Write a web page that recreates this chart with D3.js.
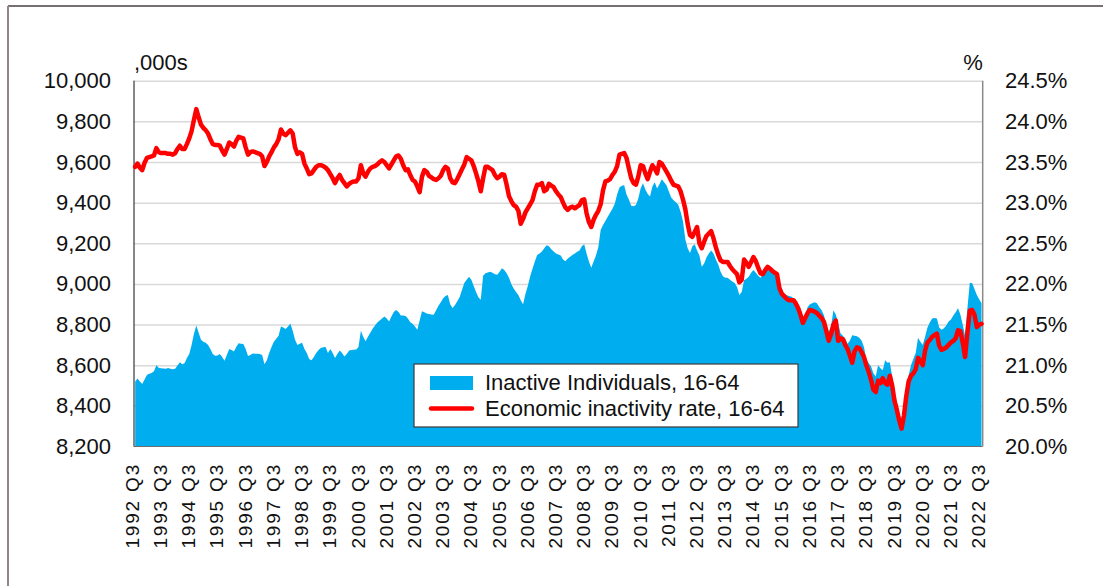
<!DOCTYPE html>
<html>
<head>
<meta charset="utf-8">
<script src="https://cdn.jsdelivr.net/npm/d3@7"></script>
<style>
  body { margin: 0; background: #fff; }
  svg { display: block; font-family: "Liberation Sans", Arial, sans-serif; }
</style>
</head>
<body>
<svg id="chart" width="1103" height="586"></svg>
<script>
// x tick labels, one per year (every 12th monthly observation)
var yearLabels = ["1992 Q3","1993 Q3","1994 Q3","1995 Q3","1996 Q3","1997 Q3","1998 Q3","1999 Q3",
  "2000 Q3","2001 Q3","2002 Q3","2003 Q3","2004 Q3","2005 Q3","2006 Q3","2007 Q3","2008 Q3",
  "2009 Q3","2010 Q3","2011 Q3","2012 Q3","2013 Q3","2014 Q3","2015 Q3","2016 Q3","2017 Q3",
  "2018 Q3","2019 Q3","2020 Q3","2021 Q3","2022 Q3"];

var leftTicks = [8200, 8400, 8600, 8800, 9000, 9200, 9400, 9600, 9800, 10000];
var rightTicks = [20.0, 20.5, 21.0, 21.5, 22.0, 22.5, 23.0, 23.5, 24.0, 24.5];

// Inactive individuals 16-64, thousands (rolling quarters, monthly)
var inactive = [
  8520, 8535, 8520, 8508, 8530, 8552, 8558, 8562, 8570, 8600, 8588, 8585,
  8584, 8582, 8586, 8583, 8580, 8582, 8598, 8615, 8605, 8610, 8635, 8655,
  8700, 8755, 8795, 8760, 8725, 8716, 8710, 8700, 8680, 8655, 8646, 8648,
  8655, 8640, 8622, 8650, 8680, 8675, 8667, 8690, 8708, 8705, 8704, 8680,
  8645, 8650, 8658, 8657, 8656, 8655, 8650, 8605, 8625, 8660, 8690, 8715,
  8730, 8745, 8790, 8785, 8778, 8790, 8805, 8770, 8725, 8700, 8705, 8710,
  8680, 8660, 8630, 8625, 8640, 8660, 8675, 8685, 8688, 8690, 8660, 8680,
  8660, 8636, 8655, 8672, 8660, 8643, 8655, 8672, 8675, 8676, 8677, 8690,
  8770, 8740, 8718, 8740, 8760, 8780, 8795, 8810, 8820, 8830, 8840, 8830,
  8815, 8840, 8862, 8872, 8862, 8845, 8845, 8842, 8830, 8812, 8804, 8790,
  8775, 8820, 8865, 8860, 8855, 8852, 8850, 8848, 8870, 8892, 8910, 8929,
  8940, 8945, 8900, 8882, 8895, 8915, 8935, 8970, 9005, 9020, 9035, 9020,
  8990, 8960, 8935, 8922, 9040, 9052, 9056, 9060, 9055, 9048, 9045, 9060,
  9077, 9068, 9052, 9030, 9000, 8978, 8960, 8946, 8920, 8900, 8950, 8990,
  9036, 9075, 9110, 9142, 9150, 9160, 9175, 9190, 9185, 9170, 9160, 9150,
  9145, 9140, 9120, 9112, 9125, 9134, 9142, 9150, 9158, 9165, 9185, 9195,
  9150, 9110, 9080, 9110, 9140, 9180, 9265, 9290, 9310, 9330, 9350, 9370,
  9395, 9440, 9475, 9483, 9485, 9440, 9415, 9385, 9382, 9388, 9420, 9470,
  9495, 9465, 9442, 9430, 9480, 9500, 9470, 9490, 9515, 9500, 9485, 9455,
  9425, 9412, 9402, 9390, 9355, 9310, 9220, 9175, 9152, 9185, 9195, 9165,
  9140, 9085, 9100, 9130, 9150, 9165, 9150, 9120, 9095, 9060, 9038, 9030,
  9030, 9020, 9012, 9005, 8985, 8945, 8960, 9018, 9025, 9035, 9055, 9069,
  9055, 9040, 9030, 9050, 9060, 9082, 9078, 9070, 9060, 9052, 9020, 8980,
  8952, 8945, 8940, 8938, 8930, 8915, 8900, 8880, 8830, 8850, 8885, 8900,
  8905, 8910, 8905, 8885, 8870, 8845, 8800, 8765, 8790, 8870, 8850, 8810,
  8757, 8745, 8732, 8705, 8720, 8748, 8745, 8742, 8735, 8720, 8690, 8630,
  8610, 8595, 8560, 8545, 8600, 8585, 8575, 8625, 8612, 8615, 8545, 8470,
  8420, 8360, 8305, 8400, 8490, 8550, 8600, 8630, 8660, 8735, 8715, 8700,
  8740, 8785, 8810, 8830, 8832, 8830, 8785, 8775, 8782, 8795, 8815, 8825,
  8845, 8860, 8880, 8850, 8800, 8745, 8880, 9005, 9005, 8975, 8945, 8925,
  8905
];

// Economic inactivity rate 16-64, %
var rate = [
  23.44, 23.48, 23.43, 23.40, 23.49, 23.55, 23.56, 23.57, 23.58, 23.67, 23.62, 23.61,
  23.61, 23.61, 23.60, 23.60, 23.59, 23.61, 23.66, 23.70, 23.66, 23.66, 23.72, 23.79,
  23.88, 24.02, 24.15, 24.05, 23.96, 23.92, 23.89, 23.85, 23.78, 23.72, 23.71, 23.71,
  23.70, 23.64, 23.59, 23.66, 23.74, 23.72, 23.69, 23.76, 23.81, 23.80, 23.79, 23.68,
  23.59, 23.62, 23.63, 23.62, 23.61, 23.60, 23.57, 23.45, 23.50, 23.57, 23.62, 23.68,
  23.72, 23.78, 23.90, 23.85, 23.83, 23.86, 23.89, 23.85, 23.68, 23.60, 23.62, 23.60,
  23.48, 23.42, 23.35, 23.36, 23.40, 23.44, 23.46, 23.46, 23.45, 23.43, 23.40, 23.35,
  23.30, 23.24, 23.30, 23.34, 23.28, 23.24, 23.20, 23.23, 23.25, 23.26, 23.26, 23.30,
  23.46, 23.36, 23.32, 23.38, 23.42, 23.44, 23.45, 23.47, 23.50, 23.52, 23.50, 23.46,
  23.42, 23.47, 23.52, 23.57, 23.58, 23.54, 23.46, 23.40, 23.41, 23.34, 23.28, 23.26,
  23.20, 23.13, 23.32, 23.40, 23.38, 23.33, 23.31, 23.29, 23.28, 23.30, 23.33, 23.40,
  23.44, 23.42, 23.30, 23.25, 23.24, 23.29, 23.35, 23.41, 23.47, 23.56, 23.54, 23.52,
  23.45, 23.36, 23.26, 23.14, 23.30, 23.44, 23.44, 23.42, 23.40, 23.34, 23.30, 23.32,
  23.35, 23.34, 23.22, 23.08, 23.02, 22.97, 22.95, 22.90, 22.74, 22.80, 22.88, 22.93,
  22.98, 23.03, 23.14, 23.22, 23.22, 23.24, 23.14, 23.16, 23.23, 23.21, 23.19, 23.14,
  23.10, 23.07, 23.00, 22.94, 22.91, 22.94, 22.95, 22.93, 22.95, 22.97, 23.03, 23.04,
  22.87, 22.76, 22.70, 22.79, 22.85, 22.90, 22.98, 23.15, 23.26, 23.27, 23.29, 23.34,
  23.38, 23.45, 23.59, 23.60, 23.61, 23.55, 23.42, 23.30, 23.24, 23.22, 23.32, 23.46,
  23.45, 23.36, 23.29, 23.38, 23.46, 23.42, 23.36, 23.50, 23.48, 23.43, 23.38, 23.33,
  23.27, 23.22, 23.21, 23.20, 23.14, 23.04, 22.92, 22.74, 22.60, 22.58, 22.64, 22.70,
  22.50, 22.44, 22.52, 22.59, 22.62, 22.65, 22.56, 22.45, 22.36, 22.29, 22.27, 22.27,
  22.27, 22.22, 22.18, 22.15, 22.12, 22.02, 22.05, 22.30, 22.26, 22.21, 22.27, 22.33,
  22.28, 22.20, 22.13, 22.12, 22.17, 22.21, 22.19, 22.16, 22.14, 22.12, 21.95, 21.88,
  21.85, 21.82, 21.80, 21.80, 21.80, 21.76, 21.70, 21.62, 21.52, 21.58, 21.64, 21.68,
  21.67, 21.66, 21.64, 21.61, 21.58, 21.53, 21.42, 21.30, 21.38, 21.50, 21.55, 21.30,
  21.33, 21.32, 21.25, 21.20, 21.12, 21.03, 21.17, 21.22, 21.21, 21.16, 21.10, 21.00,
  20.92, 20.82, 20.70, 20.67, 20.81, 20.78, 20.84, 20.78, 20.76, 20.87, 20.75, 20.56,
  20.45, 20.32, 20.22, 20.38, 20.62, 20.80, 20.87, 20.90, 20.95, 21.09, 21.05, 21.00,
  21.18, 21.28, 21.31, 21.35, 21.37, 21.39, 21.24, 21.19, 21.20, 21.22, 21.25, 21.28,
  21.30, 21.33, 21.43, 21.42, 21.28, 21.10, 21.40, 21.67, 21.68, 21.62, 21.47, 21.50,
  21.51
];

var seriesNames = ["Inactive Individuals, 16-64", "Economic inactivity rate, 16-64"];

var svg = d3.select("#chart");
var pLeft = 134, pRight = 982.7, pTop = 80.7, pBottom = 446.5;
var blue = "#00aeef", red = "#ff0000";

// frame
svg.append("line").attr("x1", 8).attr("x2", 1103).attr("y1", 6).attr("y2", 6)
  .attr("stroke", "#4b3f40").attr("stroke-width", 1.5);
svg.append("line").attr("x1", 8).attr("x2", 8).attr("y1", 6).attr("y2", 586)
  .attr("stroke", "#8d8789").attr("stroke-width", 2);

var idx = d3.range(inactive.length);
var x = d3.scalePoint().domain(idx).range([pLeft, pRight]).padding(0.5);
var yL = d3.scaleLinear().domain([8200, 10000]).range([pBottom, pTop]);
var yR = d3.scaleLinear().domain([20, 24.5]).range([pBottom, pTop]);

// gridlines
svg.append("g")
  .attr("transform", "translate(" + pLeft + ",0)")
  .call(d3.axisLeft(yL).tickValues(leftTicks.slice(1)).tickSize(-(pRight - pLeft)).tickFormat(""))
  .call(function(g) {
    g.select(".domain").remove();
    g.selectAll("line").attr("stroke", "#d9d9d9").attr("stroke-width", 1.5);
  });

// area
var area = d3.area()
  .x(function(d, i) { return x(i); })
  .y0(yL(8200))
  .y1(function(d) { return yL(d); });
svg.append("path").datum(inactive).attr("d", area).attr("fill", blue);

// axis lines
svg.append("line").attr("x1", pLeft).attr("x2", pRight).attr("y1", pBottom).attr("y2", pBottom)
  .attr("stroke", "#6f6f6f").attr("stroke-width", 1.2);
svg.append("line").attr("x1", pLeft).attr("x2", pLeft).attr("y1", pTop).attr("y2", pBottom)
  .attr("stroke", "#111").attr("stroke-width", 1);
svg.append("line").attr("x1", pRight).attr("x2", pRight).attr("y1", pTop).attr("y2", pBottom)
  .attr("stroke", "#8a8a8a").attr("stroke-width", 1.5);

// rate line
var line = d3.line()
  .x(function(d, i) { return x(i); })
  .y(function(d) { return yR(d); });
svg.append("path").datum(rate).attr("d", line)
  .attr("fill", "none").attr("stroke", red).attr("stroke-width", 4.5)
  .attr("stroke-linejoin", "round").attr("stroke-linecap", "round");

// left axis labels
svg.append("g")
  .attr("transform", "translate(" + (pLeft - 23) + ",0)")
  .call(d3.axisLeft(yL).tickValues(leftTicks).tickSize(0).tickPadding(0).tickFormat(d3.format(",")))
  .call(function(g) {
    g.select(".domain").remove();
    g.selectAll("text").attr("font-size", 22).attr("fill", "#111")
      .attr("font-family", "Liberation Sans, Arial, sans-serif");
  });

// right axis labels
svg.append("g")
  .attr("transform", "translate(" + 1005 + ",0)")
  .call(d3.axisRight(yR).tickValues(rightTicks).tickSize(0).tickPadding(0)
    .tickFormat(function(d) { return d.toFixed(1) + "%"; }))
  .call(function(g) {
    g.select(".domain").remove();
    g.selectAll("text").attr("font-size", 22).attr("fill", "#111")
      .attr("font-family", "Liberation Sans, Arial, sans-serif");
  });

// unit labels
svg.append("text").attr("x", pLeft).attr("y", 70).text(",000s")
  .attr("font-size", 22).attr("fill", "#111");
svg.append("text").attr("x", pRight).attr("y", 70).attr("text-anchor", "end").text("%")
  .attr("font-size", 22).attr("fill", "#111");

// x labels
svg.append("g").selectAll("text")
  .data(yearLabels)
  .enter()
  .append("text")
  .attr("transform", function(d, i) { return "translate(" + (x(i * 12) - 3) + ",463) rotate(-90)"; })
  .attr("dy", "0.35em")
  .attr("text-anchor", "end")
  .attr("font-size", 19)
  .attr("letter-spacing", 1.8)
  .attr("fill", "#111")
  .text(function(d) { return d; });

// legend
var lg = svg.append("g");
lg.append("rect").attr("x", 414).attr("y", 364).attr("width", 384).attr("height", 63)
  .attr("fill", "#fff").attr("stroke", "#3a3a3a").attr("stroke-width", 1.2);
lg.append("rect").attr("x", 430).attr("y", 376).attr("width", 43).attr("height", 14).attr("fill", blue);
lg.append("line").attr("x1", 431).attr("x2", 472).attr("y1", 408.5).attr("y2", 408.5)
  .attr("stroke", red).attr("stroke-width", 4.5).attr("stroke-linecap", "round");
lg.selectAll("text.leg")
  .data(seriesNames)
  .enter()
  .append("text")
  .attr("class", "leg")
  .attr("x", 485)
  .attr("y", function(d, i) { return 390 + i * 25.5; })
  .attr("font-size", 22)
  .attr("fill", "#111")
  .text(function(d) { return d; });
</script>
</body>
</html>
